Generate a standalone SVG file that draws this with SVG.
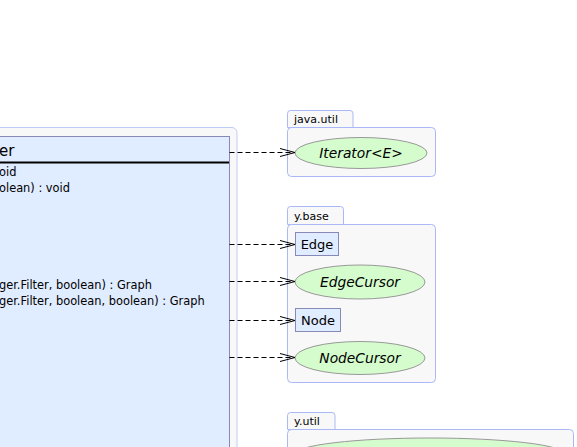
<svg xmlns="http://www.w3.org/2000/svg" width="577" height="447" viewBox="0 0 577 447">
<style>
text{font-family:"DejaVu Sans","Liberation Sans",sans-serif;fill:#000}
.pkg{fill:#f8f8f8;stroke:#aab8f8;stroke-width:1}
.pl{font-size:11px}
.cls{fill:#e0ecff;stroke:#8888bb;stroke-width:1}
.ifc{fill:#d4fccc;stroke:#999999;stroke-width:1}
.nl{font-size:13px;text-anchor:middle}
.it{font-style:italic;font-size:13.8px}
.m{font-size:11.4px}
.dep{fill:none;stroke:#000;stroke-width:1;stroke-dasharray:5,3}
</style>
<defs>
<marker id="open" markerWidth="16" markerHeight="10" refX="15" refY="5" orient="auto" markerUnits="userSpaceOnUse">
<path d="M0,1 L15,5 L0,9" fill="none" stroke="#000" stroke-width="1"/>
</marker>
</defs>
<g id="main">
<rect x="-10" y="127.5" width="247" height="400" rx="5" fill="#f8f8f8" stroke="#c0ccf8"/>
<rect class="cls" x="-10" y="136.5" width="239.5" height="400"/>
<line x1="-10" y1="162.5" x2="229" y2="162.5" stroke="#000" stroke-width="2"/>
<text x="-1" y="155.5" font-size="15">er</text>
<text class="m" x="-1" y="176">oid</text>
<text class="m" x="-1" y="191.5">olean) : void</text>
<text class="m" x="-1" y="288.5">ger.Filter, boolean) : Graph</text>
<text class="m" x="-1" y="304.5">ger.Filter, boolean, boolean) : Graph</text>
</g>
<g id="pkg-java-util">
<path class="pkg" d="M287.5,127.5 V113.5 Q287.5,110.5 290.5,110.5 H350 Q353,110.5 353,113.5 V127.5 Z"/>
<rect class="pkg" x="287.5" y="127.5" width="148" height="49" rx="4"/>
<text class="pl" x="294" y="123">java.util</text>
</g>
<g id="pkg-y-base">
<path class="pkg" d="M287.5,224.5 V209.5 Q287.5,206.5 290.5,206.5 H340.5 Q343.5,206.5 343.5,209.5 V224.5 Z"/>
<rect class="pkg" x="287.5" y="224.5" width="148" height="158" rx="4"/>
<text class="pl" x="294" y="219.5">y.base</text>
</g>
<g id="pkg-y-util">
<path class="pkg" d="M287.5,429.5 V415.5 Q287.5,412.5 290.5,412.5 H332 Q335,412.5 335,415.5 V429.5 Z"/>
<rect class="pkg" x="287.5" y="429.5" width="286" height="60" rx="4"/>
<text class="pl" x="294" y="425">y.util</text>
</g>
<g id="Iterator">
<ellipse class="ifc" cx="361" cy="153" rx="66" ry="15.5"/>
<text class="nl it" x="361" y="158">Iterator&lt;E&gt;</text>
</g>
<g id="Edge">
<rect class="cls" x="295.5" y="232.5" width="43" height="23"/>
<text class="nl" x="317" y="248.5">Edge</text>
</g>
<g id="EdgeCursor">
<ellipse class="ifc" cx="360" cy="282" rx="65" ry="17"/>
<text class="nl it" x="360" y="287">EdgeCursor</text>
</g>
<g id="Node">
<rect class="cls" x="295.5" y="308.5" width="45" height="23"/>
<text class="nl" x="318" y="324.5">Node</text>
</g>
<g id="NodeCursor">
<ellipse class="ifc" cx="360" cy="358" rx="65" ry="16.5"/>
<text class="nl it" x="360" y="363">NodeCursor</text>
</g>
<g id="y-util-node">
<ellipse class="ifc" cx="430" cy="454" rx="135" ry="16"/>
</g>
<g id="connectors">
<path class="dep" d="M229.5,152.5 H295" marker-end="url(#open)"/>
<path class="dep" d="M229.5,244.5 H295" marker-end="url(#open)"/>
<path class="dep" d="M229.5,281.5 H295" marker-end="url(#open)"/>
<path class="dep" d="M229.5,320.5 H295" marker-end="url(#open)"/>
<path class="dep" d="M229.5,357.5 H295" marker-end="url(#open)"/>
</g>
</svg>
